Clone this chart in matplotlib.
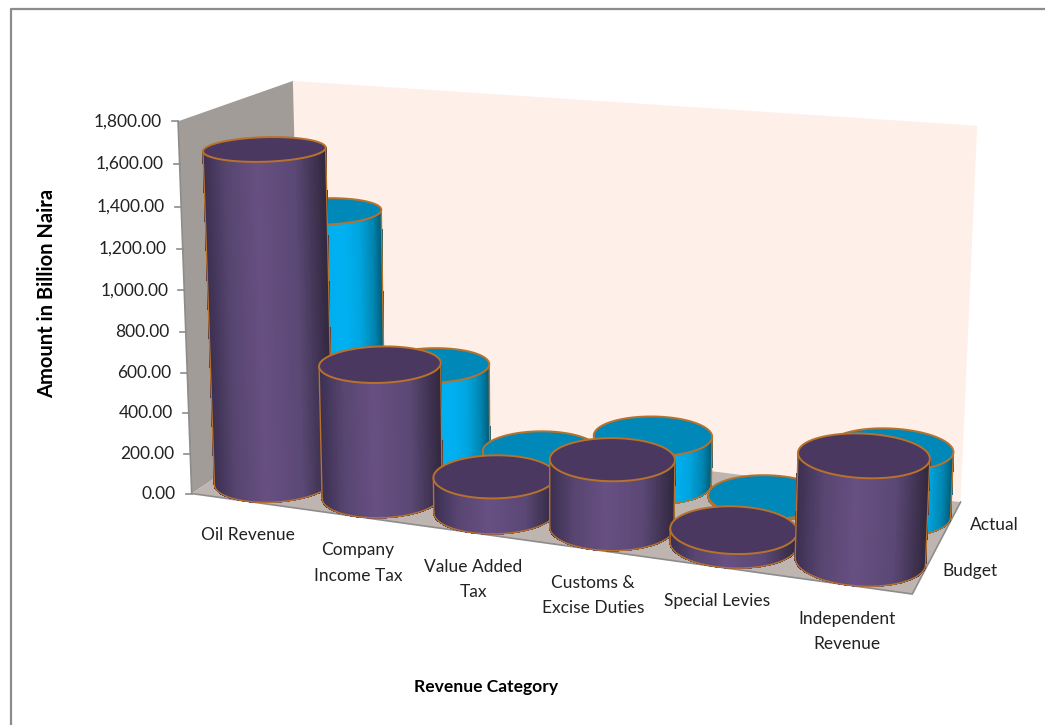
import numpy as np
import matplotlib
matplotlib.use('Agg')
import matplotlib.pyplot as plt
from matplotlib.collections import PolyCollection
from matplotlib.colors import LinearSegmentedColormap

categories = ['Oil Revenue', 'Company\nIncome Tax', 'Value Added\nTax',
              'Customs &\nExcise Duties', 'Special Levies', 'Independent\nRevenue']
series_names = ['Budget', 'Actual']
budget = [1635, 650, 170, 325, 65, 485]
actual = [1205, 470, 95, 240, 8, 315]
value_ticks = [0, 200, 400, 600, 800, 1000, 1200, 1400, 1600, 1800]
y_max = 1800

plt.rcParams['font.family'] = ['Lato', 'DejaVu Sans']

# camera fitted on the box corners: (x, depth, height) -> pixel
box_world = np.array([(0, 0, 0), (1, 0, 0), (1, 1, 0), (0, 1, 0), (0, 0, 1), (0, 1, 1), (1, 1, 1)], float)
box_pixel = np.array([(193, 493), (912, 595), (961, 501), (300, 421), (177, 121), (294, 81), (977, 126)], float)


def fit_camera(world, pixel):
    rows, rhs = [], []
    for (x, z, y), (u, v) in zip(world, pixel):
        rows.append([x, z, y, 1, 0, 0, 0, 0, -u * x, -u * z, -u * y])
        rows.append([0, 0, 0, 0, x, z, y, 1, -v * x, -v * z, -v * y])
        rhs += [u, v]
    p = np.linalg.lstsq(np.array(rows), np.array(rhs), rcond=None)[0]
    return np.append(p, 1).reshape(3, 4)


cam = fit_camera(box_world, box_pixel)


def project(x, z, y):
    x, z, y = np.broadcast_arrays(x, z, y)
    w = cam[2, 0] * x + cam[2, 1] * z + cam[2, 2] * y + cam[2, 3]
    u = (cam[0, 0] * x + cam[0, 1] * z + cam[0, 2] * y + cam[0, 3]) / w
    v = (cam[1, 0] * x + cam[1, 1] * z + cam[1, 2] * y + cam[1, 3]) / w
    return u, v


purple_map = LinearSegmentedColormap.from_list(
    'purple', [(0, '#3a2e50'), (0.2, '#574570'), (0.45, '#674f82'), (0.75, '#5b4876'), (1, '#32283f')])
blue_map = LinearSegmentedColormap.from_list(
    'blue', [(0, '#0095c8'), (0.3, '#00aeef'), (0.7, '#00b0f0'), (0.82, '#00a4de'), (0.93, '#0086b2'), (1, '#00607f')])

EDGE = '#b8722c'
RX, RZ = 0.082, 0.25


def front_arc(cx, cz, h, n=160):
    # the silhouette is where the circle reaches its left and right extremes on screen
    theta = np.linspace(0, 2 * np.pi, 721)
    su, _ = project(cx + RX * np.cos(theta), cz + RZ * np.sin(theta), h)
    left, right = theta[np.argmin(su)], theta[np.argmax(su)]
    if right < left:
        right += 2 * np.pi
    arc = np.linspace(left, right, n)
    return project(cx + RX * np.cos(arc), cz + RZ * np.sin(arc), h)


def draw_cylinder(ax, cx, cz, value, cmap, top_color, zorder):
    h = value / y_max
    bu, bv = front_arc(cx, cz, 0.0)
    tu, tv = front_arc(cx, cz, h)
    quads = []
    for i in range(len(bu) - 1):
        quads.append([(bu[i], bv[i]), (bu[i + 1], bv[i + 1]), (tu[i + 1], tv[i + 1]), (tu[i], tv[i])])
    mid = (bu[:-1] + bu[1:]) / 2
    shade = (mid - bu.min()) / (bu.max() - bu.min())
    body = PolyCollection(quads, facecolors=cmap(shade), edgecolors='face', linewidths=0.6,
                          antialiaseds=False, zorder=zorder)
    ax.add_collection(body)
    # outline of the side and the lid
    ax.plot(bu, bv, color=EDGE, lw=1.0, zorder=zorder)
    ax.plot([bu[0], tu[0]], [bv[0], tv[0]], color=EDGE, lw=1.0, zorder=zorder)
    ax.plot([bu[-1], tu[-1]], [bv[-1], tv[-1]], color=EDGE, lw=1.0, zorder=zorder)
    theta = np.linspace(0, 2 * np.pi, 181)
    lu, lv = project(cx + RX * np.cos(theta), cz + RZ * np.sin(theta), h)
    ax.fill(lu, lv, facecolor=top_color, edgecolor=EDGE, lw=1.4, zorder=zorder)


fig = plt.figure(figsize=(10.45, 7.25), dpi=100)
ax = fig.add_axes([0, 0, 1, 1])
ax.set_xlim(0, 1045)
ax.set_ylim(725, 0)
ax.axis('off')

# chart frame
ax.plot([11, 11, 1045], [725, 9, 9], color='#8c8c8c', lw=1.6)

# walls and floor
corner = lambda x, z, y: tuple(float(c) for c in project(x, z, y))
ax.fill(*zip(corner(0, 1, 0), corner(1, 1, 0), corner(1, 1, 1), corner(0, 1, 1)), color='#feefe8', lw=0)
ax.fill(*zip(corner(0, 0, 0), corner(0, 1, 0), corner(0, 1, 1), corner(0, 0, 1)), color='#a29c98', lw=0)
ax.fill(*zip(corner(0, 0, 0), corner(1, 0, 0), corner(1, 1, 0), corner(0, 1, 0)), color='#bfb5b0', lw=0)
ax.plot(*zip(corner(0, 0, 1), corner(0, 0, 0), corner(1, 0, 0), corner(1, 1, 0)), color='#8c8c8c', lw=1.2)

# back row first, each row left to right, so nearer cylinders cover farther ones
order = 10
for name, values, z in [('Actual', actual, 0.775), ('Budget', budget, 0.25)]:
    cmap = blue_map if name == 'Actual' else purple_map
    top = '#0088b8' if name == 'Actual' else '#4a3860'
    for i, v in enumerate(values):
        draw_cylinder(ax, (i + 0.5) / len(categories), z, v, cmap, top, order)
        order += 1

# value axis
for t in value_ticks:
    u, v = project(0.0, 0.0, t / y_max)
    ax.plot([u - 6, u], [v, v], color='#8c8c8c', lw=1.2)
    ax.text(u - 16, v, f'{t:,.2f}', ha='right', va='center', fontsize=12.5, color='#222222')

# category labels under the front edge
for i, name in enumerate(categories):
    u, v = project((i + 0.5) / len(categories), 0.0, 0.0)
    ax.text(u + 2, v + 26, name, ha='center', va='top', fontsize=12.5, color='#222222', linespacing=1.7)

# depth labels along the right edge
for name, z in zip(series_names, [0.25, 0.75]):
    u, v = project(1.0, z, 0.0)
    ax.text(u + 45, v + 2, name, ha='center', va='center', fontsize=12.5, color='#222222')

ax.text(47, 293, 'Amount in Billion Naira', rotation=90, ha='center', va='center',
        fontsize=14.5, fontweight='bold', color='black')
ax.text(486, 687, 'Revenue Category', ha='center', va='center', fontsize=12.6, fontweight='bold', color='black')

fig.savefig('out.png', dpi=100)
